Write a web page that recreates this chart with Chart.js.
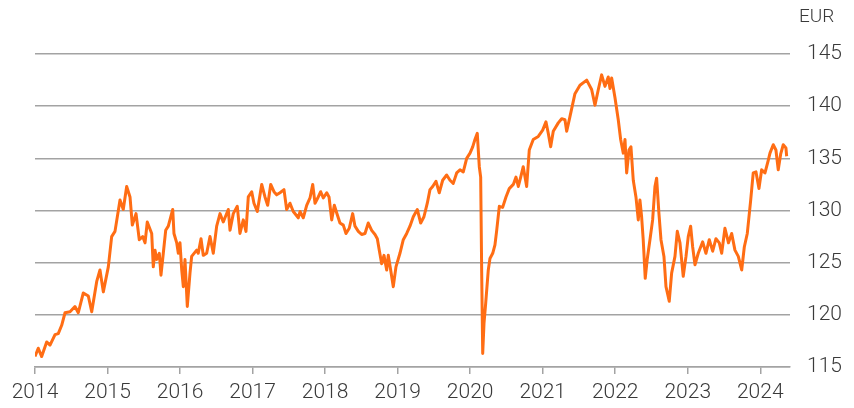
<!DOCTYPE html>
<html>
<head>
<meta charset="utf-8">
<script src="https://cdn.jsdelivr.net/npm/chart.js@4/dist/chart.umd.min.js"></script>
<style>
html,body{margin:0;padding:0;background:#fff;}
#wrap{width:854px;height:408px;}
</style>
</head>
<body>
<div id="wrap"><canvas id="c" width="854" height="408"></canvas></div>
<script>
// Decimal-year dates of the sampled points
const dates = [
2014.000,2014.045,2014.092,2014.161,2014.207,2014.276,2014.321,2014.368,2014.414,2014.483,
2014.551,2014.597,2014.666,2014.735,2014.782,2014.851,2014.896,2014.942,2015.011,2015.057,
2015.103,2015.172,2015.217,2015.264,2015.310,2015.342,2015.393,2015.438,2015.485,2015.517,
2015.548,2015.609,2015.631,2015.655,2015.678,2015.714,2015.737,2015.769,2015.802,2015.838,
2015.899,2015.916,2015.954,2015.976,2015.999,2016.023,2016.045,2016.068,2016.100,2016.137,
2016.160,2016.229,2016.251,2016.289,2016.320,2016.367,2016.413,2016.458,2016.505,2016.551,
2016.596,2016.665,2016.689,2016.734,2016.789,2016.826,2016.872,2016.909,2016.941,2016.988,
2017.019,2017.065,2017.126,2017.171,2017.208,2017.250,2017.295,2017.332,2017.378,2017.433,
2017.470,2017.516,2017.561,2017.630,2017.654,2017.699,2017.746,2017.792,2017.829,2017.861,
2017.906,2017.939,2017.975,2018.022,2018.054,2018.091,2018.127,2018.168,2018.205,2018.251,
2018.288,2018.333,2018.380,2018.412,2018.458,2018.504,2018.550,2018.595,2018.642,2018.688,
2018.720,2018.747,2018.780,2018.812,2018.849,2018.871,2018.904,2018.940,2018.977,2019.032,
2019.078,2019.125,2019.170,2019.216,2019.271,2019.318,2019.363,2019.409,2019.446,2019.483,
2019.529,2019.574,2019.621,2019.676,2019.722,2019.767,2019.814,2019.860,2019.905,2019.952,
2019.998,2020.035,2020.066,2020.098,2020.126,2020.145,2020.159,2020.173,2020.191,2020.214,
2020.250,2020.273,2020.311,2020.342,2020.366,2020.402,2020.448,2020.494,2020.539,2020.595,
2020.632,2020.664,2020.697,2020.732,2020.779,2020.815,2020.870,2020.939,2021.000,2021.045,
2021.077,2021.110,2021.146,2021.215,2021.262,2021.307,2021.331,2021.376,2021.445,2021.514,
2021.607,2021.675,2021.721,2021.767,2021.813,2021.859,2021.904,2021.928,2021.951,2021.997,
2022.042,2022.075,2022.111,2022.135,2022.158,2022.190,2022.217,2022.249,2022.286,2022.318,
2022.341,2022.364,2022.386,2022.414,2022.441,2022.479,2022.516,2022.548,2022.571,2022.603,
2022.631,2022.672,2022.700,2022.745,2022.778,2022.824,2022.856,2022.893,2022.938,2022.976,
2023.007,2023.040,2023.068,2023.100,2023.145,2023.206,2023.251,2023.297,2023.344,2023.389,
2023.435,2023.468,2023.513,2023.562,2023.606,2023.651,2023.697,2023.744,2023.780,2023.821,
2023.868,2023.903,2023.941,2023.982,2024.019,2024.065,2024.110,2024.134,2024.179,2024.216,
2024.248,2024.281,2024.317,2024.354,2024.364
];
// Price in EUR
const prices = [
116.0,116.8,116.0,117.4,117.1,118.1,118.2,119.0,120.2,120.3,
120.8,120.2,122.1,121.8,120.3,123.2,124.3,122.2,124.6,127.5,
128.0,131.0,130.1,132.3,131.3,128.6,129.7,127.2,127.5,126.9,
128.9,127.8,124.6,126.2,125.3,125.9,123.8,125.9,128.1,128.5,
130.1,127.8,126.9,125.9,126.9,124.3,122.7,125.3,120.8,124.0,
125.6,126.2,125.9,127.3,125.7,125.9,127.5,125.9,128.5,129.7,
128.9,130.1,128.1,129.7,130.4,127.8,129.1,128.0,131.3,131.8,
130.7,129.9,132.5,131.3,130.5,132.5,131.8,131.5,131.7,132.0,
130.1,130.7,129.9,129.3,129.9,129.3,130.5,131.2,132.5,130.7,
131.3,131.8,131.2,131.7,131.3,129.1,130.5,129.6,128.8,128.6,
127.8,128.3,129.7,128.5,128.0,127.7,127.8,128.8,128.1,127.7,
127.3,126.2,124.9,125.7,124.3,125.7,124.3,122.7,124.6,125.9,
127.2,127.8,128.5,129.4,130.1,128.8,129.4,130.7,132.0,132.3,
132.8,131.7,132.9,133.4,132.9,132.6,133.6,133.9,133.7,135.0,
135.5,136.1,136.8,137.4,134.2,133.2,124.0,116.3,119.2,121.1,
124.3,125.4,125.9,126.7,128.1,130.4,130.3,131.3,132.1,132.5,
133.2,132.3,133.2,134.2,132.3,135.8,136.8,137.1,137.7,138.5,
137.4,136.1,137.6,138.4,138.8,138.7,137.6,139.0,141.2,142.0,
142.5,141.6,140.1,141.6,143.0,141.9,142.8,141.7,142.7,140.8,
138.7,136.8,135.5,136.8,133.6,135.8,136.1,132.9,131.3,129.1,
131.0,129.4,127.2,123.5,125.3,127.2,129.1,132.3,133.1,129.7,
127.2,125.6,122.7,121.3,124.0,125.6,128.0,126.9,123.7,125.6,
127.5,128.5,126.5,124.8,125.9,127.0,125.9,127.2,126.1,127.3,
126.9,125.9,128.3,126.9,127.8,126.2,125.6,124.3,126.5,127.8,
131.0,133.6,133.7,132.1,133.9,133.6,134.8,135.5,136.3,135.8,
133.9,135.4,136.3,136.0,135.2
];
const yearTicks = [2014,2015,2016,2017,2018,2019,2020,2021,2022,2023,2024];
const valueTicks = [115,120,125,130,135,140,145];
const unitLabel = 'EUR';

const FONT = 'Roboto';
const TEXT = '#3a3a3a';
const GRID = '#a3a3a3';

const unitPlugin = {
  id: 'unit',
  afterDraw(chart) {
    const ctx = chart.ctx, a = chart.chartArea;
    ctx.save();
    ctx.font = '300 19px ' + FONT;
    ctx.fillStyle = TEXT;
    ctx.textAlign = 'left';
    ctx.textBaseline = 'middle';
    ctx.fillText(unitLabel, a.right + 9, a.top - 37);
    ctx.restore();
  }
};

new Chart(document.getElementById('c'), {
  type: 'line',
  data: {
    datasets: [{
      data: dates.map((d, i) => ({x: d, y: prices[i]})),
      borderColor: '#ff6d14',
      borderWidth: 3,
      pointRadius: 0,
      tension: 0,
      fill: false,
      borderJoinStyle: 'round'
    }]
  },
  options: {
    responsive: false,
    devicePixelRatio: 1,
    animation: false,
    layout: { padding: { left: 35, top: 54, right: 0, bottom: 0 } },
    plugins: { legend: { display: false }, tooltip: { enabled: false } },
    scales: {
      x: {
        type: 'linear',
        min: 2014,
        max: 2024.41,
        afterBuildTicks(scale) { scale.ticks = yearTicks.map(v => ({value: v})); },
        afterFit(scale) { scale.height = 41; },
        ticks: {
          includeBounds: false,
          maxRotation: 0,
          autoSkip: false,
          padding: 6,
          color: TEXT,
          font: { family: FONT, size: 21, weight: '300' },
          callback: v => String(v)
        },
        grid: { drawOnChartArea: false, drawTicks: true, tickLength: 7, color: GRID, lineWidth: 1.5 },
        border: { display: true, color: GRID, width: 1.5 }
      },
      y: {
        position: 'right',
        min: 115,
        max: 145,
        afterBuildTicks(scale) { scale.ticks = valueTicks.map(v => ({value: v})); },
        afterFit(scale) { scale.width = 64; },
        ticks: {
          padding: 17,
          color: TEXT,
          font: { family: FONT, size: 21, weight: '300' },
          callback: v => String(v)
        },
        grid: { drawTicks: false, color: GRID, lineWidth: 1.5 },
        border: { display: false }
      }
    }
  },
  plugins: [unitPlugin]
});
</script>
</body>
</html>
